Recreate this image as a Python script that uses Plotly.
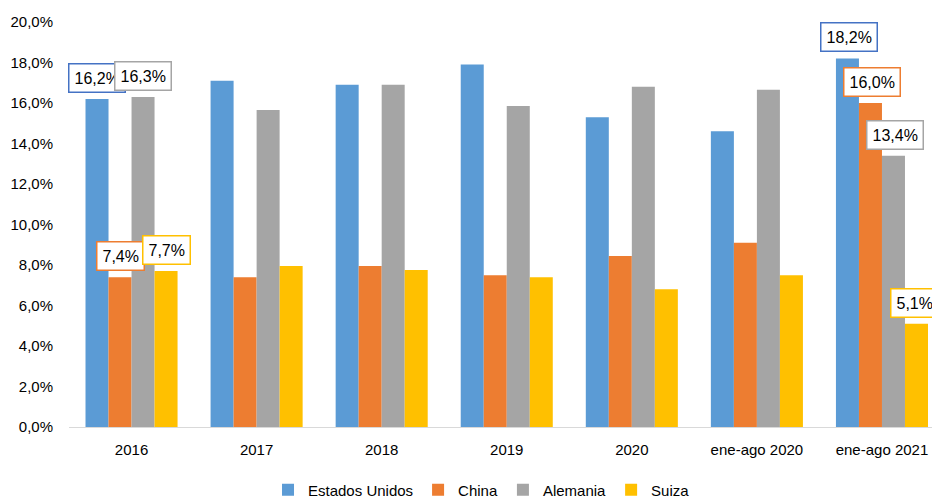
import plotly.graph_objects as go

categories = ["2016", "2017", "2018", "2019", "2020", "ene-ago 2020", "ene-ago 2021"]
series_names = ["Estados Unidos", "China", "Alemania", "Suiza"]
estados_unidos = [16.2, 17.1, 16.9, 17.9, 15.3, 14.6, 18.2]
china = [7.4, 7.4, 7.95, 7.5, 8.45, 9.1, 16.0]
alemania = [16.3, 15.65, 16.9, 15.85, 16.8, 16.65, 13.4]
suiza = [7.7, 7.95, 7.75, 7.4, 6.8, 7.5, 5.1]
y_ticks = [0, 2, 4, 6, 8, 10, 12, 14, 16, 18, 20]

values = [estados_unidos, china, alemania, suiza]
colors = ["#5B9BD5", "#ED7D31", "#A5A5A5", "#FFC000"]
border_colors = ["#4472C4", "#ED7D31", "#A5A5A5", "#FFC000"]
FONT = "Arial, Liberation Sans, sans-serif"

fig = go.Figure()
for name, vals, col in zip(series_names, values, colors):
    fig.add_trace(go.Bar(x=categories, y=vals, name=name, marker_color=col,
                         marker_line_width=0))

def fmt(v):
    return f"{v:.1f}%".replace(".", ",")

bar_px = 23
# labeled points: (series index, category index, extra xshift)
labeled = [(0, 0, 0), (2, 0, 0), (1, 0, 0), (3, 0, 0),
           (0, 6, 2), (1, 6, 2), (2, 6, 2), (3, 6, -2)]
for si, ci, dx in labeled:
    v = values[si][ci]
    fig.add_annotation(x=ci, y=v, xref="x", yref="y", text=fmt(v),
                       showarrow=False,
                       xshift=(si - 1.5) * bar_px + dx, yshift=21,
                       font=dict(family=FONT, size=16, color="#000000"),
                       bgcolor="#FFFFFF", bordercolor=border_colors[si],
                       borderwidth=1.5, borderpad=5)

fig.update_layout(
    width=932, height=500,
    margin=dict(l=69, r=0, t=22, b=73, autoexpand=False),
    paper_bgcolor="#FFFFFF", plot_bgcolor="#FFFFFF",
    barmode="group", bargap=0.264, bargroupgap=0,
    font=dict(family=FONT, size=15, color="#000000"),
    showlegend=True,
    legend=dict(orientation="h", x=0.478, xanchor="center",
                yref="container", y=0.02, yanchor="middle",
                font=dict(size=15), traceorder="normal",
                itemwidth=30, tracegroupgap=0),
    xaxis=dict(range=[-0.5, 6.4], showline=True, linecolor="#D9D9D9",
               linewidth=1, ticks="outside", ticklen=9, tickcolor="rgba(0,0,0,0)",
               showgrid=False, tickfont=dict(size=15)),
    yaxis=dict(range=[0, 20], tickvals=y_ticks,
               ticktext=[fmt(t) for t in y_ticks], showgrid=False,
               zeroline=False, showline=False, ticks="outside", ticklen=12,
               tickcolor="rgba(0,0,0,0)", tickfont=dict(size=15)),
)

# remove the default page margin so the 932x500 figure fills the window exactly
fig.write_html("out.html",
               config={"displayModeBar": False},
               post_script="document.body.style.margin='0';"
                           "document.body.style.overflow='hidden';")
